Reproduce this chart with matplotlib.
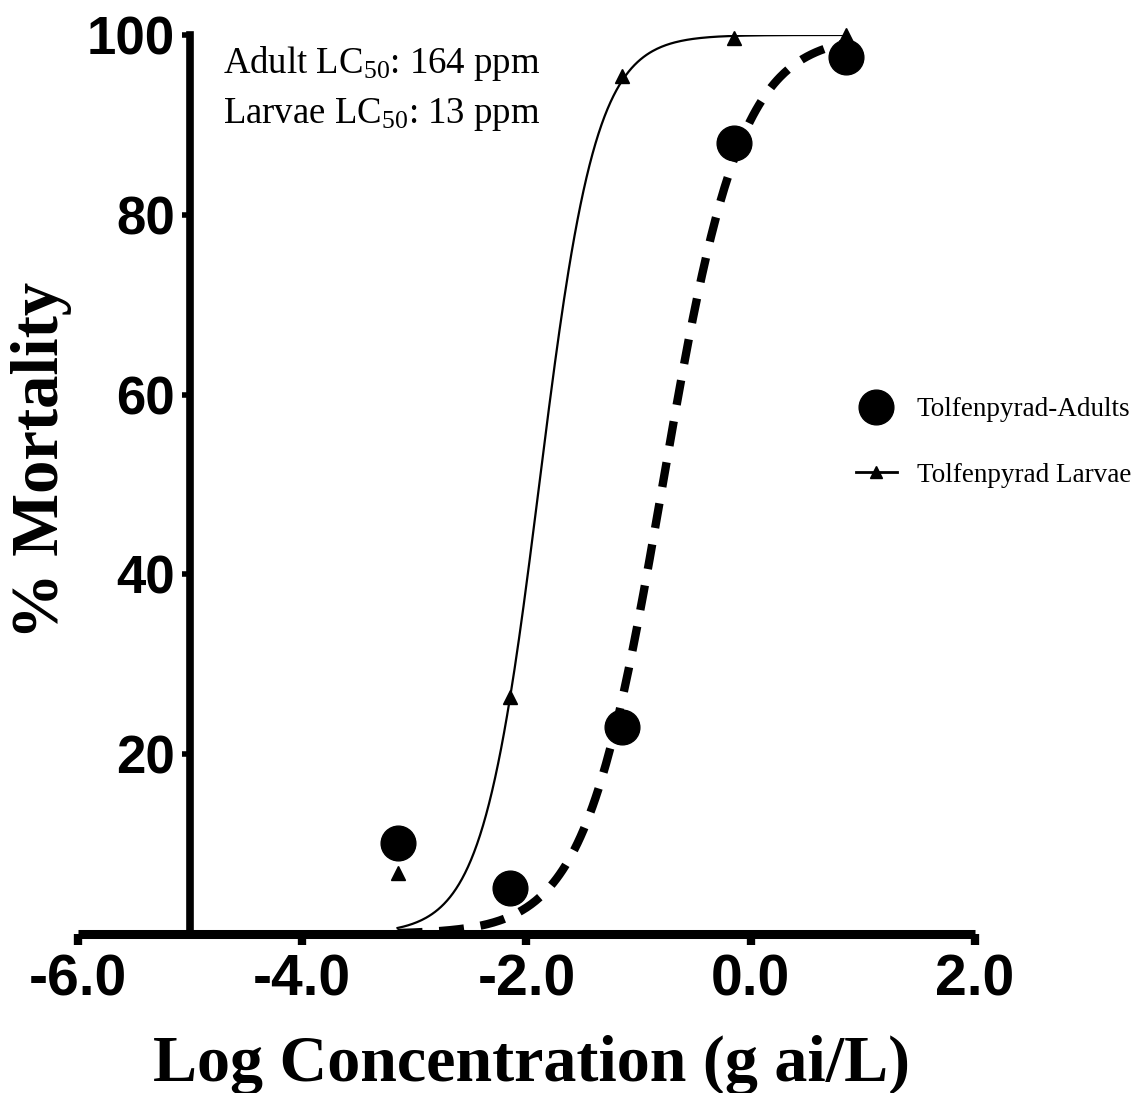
import numpy as np
import matplotlib.pyplot as plt

# log concentration (g ai/L) and % mortality
log_conc = [-3.15, -2.15, -1.15, -0.15, 0.85]
adults = [10.1, 5.1, 23.0, 88.0, 97.5]
larvae = [6.8, 26.4, 95.4, 99.7, 100.0]

# fitted dose-response parameters (LC50 in ppm, hill slope)
adult_lc50_ppm = 164
larvae_lc50_ppm = 13
adult_slope = 1.25
larvae_slope = 1.72

def hill(x, lc50_ppm, slope):
    logec = np.log10(lc50_ppm / 1000.0)
    return 100.0 / (1 + 10 ** ((logec - x) * slope))

plt.rcParams['font.family'] = ['Liberation Serif']
plt.rcParams['mathtext.fontset'] = 'custom'
plt.rcParams['mathtext.rm'] = 'Liberation Serif'
plt.rcParams['mathtext.it'] = 'Liberation Serif'

fig = plt.figure(figsize=(11.47, 10.93), dpi=100)
ax = fig.add_axes([0.068, 0.1455, 0.782, 0.8225])

xs = np.linspace(log_conc[0], log_conc[-1], 300)
ax.plot(xs, hill(xs, adult_lc50_ppm, adult_slope), color='black', lw=6,
        linestyle=(0, (3, 2)), dash_capstyle='butt', zorder=2)
ax.plot(xs, hill(xs, larvae_lc50_ppm, larvae_slope), color='black', lw=1.6, zorder=2)

ax.plot(log_conc, adults, 'o', color='black', markersize=25, clip_on=False, zorder=3)
ax.plot(log_conc, larvae, '^', color='black', markersize=10, clip_on=False, zorder=3)

# legend handles
h1, = ax.plot([], [], 'o', color='black', markersize=25)
h2, = ax.plot([], [], '^-', color='black', markersize=9, lw=2)
fig.legend([h1, h2], ['Tolfenpyrad-Adults', 'Tolfenpyrad Larvae'],
           loc='center left', bbox_to_anchor=(0.725, 0.595), frameon=False,
           fontsize=19.5, handlelength=1.5, labelspacing=1.5, handletextpad=0.75)

ax.set_xlim(-6, 2)
ax.set_ylim(0, 100)

ax.spines['top'].set_visible(False)
ax.spines['right'].set_visible(False)
ax.spines['left'].set_position(('data', -5))
ax.spines['left'].set_linewidth(5.5)
ax.spines['bottom'].set_linewidth(6.5)
ax.spines['bottom'].set_capstyle('butt')

ax.set_xticks([-6, -4, -2, 0, 2])
ax.set_xticklabels(['-6.0', '-4.0', '-2.0', '0.0', '2.0'])
ax.set_yticks([20, 40, 60, 80, 100])
ax.set_yticks([10, 30, 50, 70, 90], minor=True)
ax.tick_params(axis='x', direction='out', length=8, width=6, pad=6)
ax.tick_params(axis='y', which='major', direction='out', length=6, width=4, pad=5)
ax.tick_params(axis='y', which='minor', direction='out', length=2, width=2)
for lab in ax.get_xticklabels():
    lab.set_family('Liberation Sans')
    lab.set_fontweight('bold')
    lab.set_fontsize(41)
for lab in ax.get_yticklabels():
    lab.set_family('Liberation Sans')
    lab.set_fontweight('bold')
    lab.set_fontsize(38)

ax.set_xlabel('Log Concentration (g ai/L)', fontsize=47.5, fontweight='bold', va='top')
ax.xaxis.set_label_coords(0.506, -0.112)
ax.set_ylabel('% Mortality', fontsize=48, fontweight='bold')
ax.yaxis.set_label_coords(-0.007, 0.527)

ax.text(0.162, 0.99, 'Adult LC$_{50}$: 164 ppm\nLarvae LC$_{50}$: 13 ppm', transform=ax.transAxes,
        fontsize=26.5, va='top', ha='left', linespacing=1.5)

fig.savefig('out.png', dpi=100)
